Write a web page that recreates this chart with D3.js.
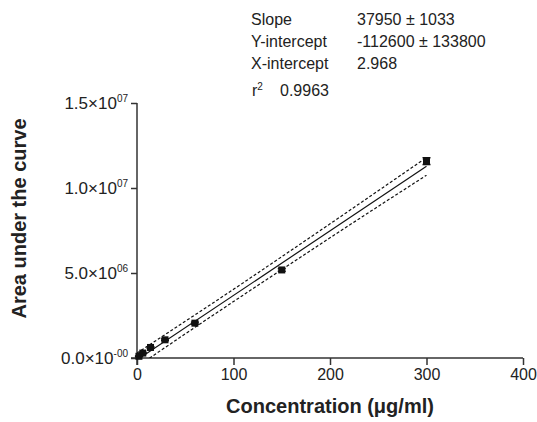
<!DOCTYPE html>
<html>
<head>
<meta charset="utf-8">
<script src="https://cdn.jsdelivr.net/npm/d3@7"></script>
<style>
  body { margin: 0; background: #fff; }
  text { font-family: "Liberation Sans", Arial, sans-serif; fill: #222; }
</style>
</head>
<body>
<div id="chart"></div>
<script>
// Data
const concentration = [2, 6, 14, 29, 60, 150, 300];
const auc = [0.10e6, 0.29e6, 0.62e6, 1.07e6, 2.05e6, 5.18e6, 11.58e6];
const aucErr = [0.02e6, 0.03e6, 0.04e6, 0.05e6, 0.06e6, 0.08e6, 0.2e6];

// Fit parameters (from the text box)
const slope = 37950;
const yIntercept = -112600;

// Confidence band, read at a few x positions
const bandX = [0, 50, 100, 150, 200, 250, 300];
const bandUpper = [0.29e6, 2.16e6, 4.04e6, 5.96e6, 7.89e6, 9.84e6, 11.79e6];
const bandLower = [-0.51e6, 1.42e6, 3.32e6, 5.20e6, 7.07e6, 8.92e6, 10.75e6];

const xTicks = [0, 100, 200, 300, 400];
const yTicks = [0, 5e6, 1e7, 1.5e7];
const yTickMant = ["0.0", "5.0", "1.0", "1.5"];
const yTickExp = ["-00", "06", "07", "07"];

const statLabels = ["Slope", "Y-intercept", "X-intercept"];
const statValues = ["37950 \u00b1 1033", "-112600 \u00b1 133800", "2.968"];
const r2Value = "0.9963";

const W = 537, H = 422;
const margin = {top: 103, right: 14, bottom: 64, left: 137};
const width = W - margin.left - margin.right;
const height = H - margin.top - margin.bottom;

const svg = d3.select("#chart").append("svg")
    .attr("width", W)
    .attr("height", H);

const g = svg.append("g")
    .attr("transform", `translate(${margin.left},${margin.top})`);

const x = d3.scaleLinear().domain([0, 400]).range([0, width]);
const y = d3.scaleLinear().domain([0, 1.5e7]).range([height, 0]);

// clip for fit lines
svg.append("defs").append("clipPath").attr("id", "plotclip")
    .append("rect")
    .attr("x", 0).attr("y", 0)
    .attr("width", width).attr("height", height);

// x axis
const xAxis = g.append("g")
    .attr("transform", `translate(0,${height})`)
    .call(d3.axisBottom(x).tickValues(xTicks).tickSize(7).tickSizeOuter(0).tickPadding(4));
xAxis.select(".domain").attr("stroke", "#333").attr("stroke-width", 1.5).attr("d", `M-6,0H${width}`);
xAxis.selectAll(".tick line").attr("stroke", "#333").attr("stroke-width", 1.5);
xAxis.selectAll(".tick text").style("font-size", "16px").attr("fill", "#222");

// y axis
const yAxis = g.append("g")
    .call(d3.axisLeft(y).tickValues(yTicks).tickSize(6).tickSizeOuter(0).tickFormat(""));
yAxis.select(".domain").attr("stroke", "#333").attr("stroke-width", 1.5).attr("d", `M0,${height + 7}V0`);
yAxis.selectAll(".tick line").attr("stroke", "#333").attr("stroke-width", 1.5);

yTicks.forEach((v, i) => {
  const t = g.append("text")
      .attr("x", -9)
      .attr("y", y(v) + 6)
      .attr("text-anchor", "end")
      .style("font-size", "17px");
  t.append("tspan").text(yTickMant[i] + "\u00d710");
  t.append("tspan").attr("dy", -7).style("font-size", "10px").text(yTickExp[i]);
});

// axis titles
svg.append("text")
    .attr("x", margin.left + width / 2)
    .attr("y", 413)
    .attr("text-anchor", "middle")
    .style("font-size", "20px")
    .style("font-weight", "bold")
    .text("Concentration (\u03bcg/ml)");

svg.append("text")
    .attr("transform", `translate(26,${margin.top + height / 2 - 12}) rotate(-90)`)
    .attr("text-anchor", "middle")
    .style("font-size", "20px")
    .style("font-weight", "bold")
    .text("Area under the curve");

// fit line and bands
const plot = g.append("g").attr("clip-path", "url(#plotclip)");

plot.append("line")
    .attr("x1", x(0)).attr("y1", y(yIntercept))
    .attr("x2", x(300)).attr("y2", y(slope * 300 + yIntercept))
    .attr("stroke", "#111").attr("stroke-width", 1.2);

const bandLine = d3.line()
    .x(d => x(d[0]))
    .y(d => y(d[1]))
    .curve(d3.curveMonotoneX);

[bandUpper, bandLower].forEach(band => {
  plot.append("path")
      .datum(bandX.map((v, i) => [v, band[i]]))
      .attr("fill", "none")
      .attr("stroke", "#111")
      .attr("stroke-width", 1.2)
      .attr("stroke-dasharray", "3,2")
      .attr("d", bandLine);
});

// error bars
concentration.forEach((c, i) => {
  const cx = x(c);
  g.append("line")
      .attr("x1", cx).attr("x2", cx)
      .attr("y1", y(auc[i] - aucErr[i])).attr("y2", y(auc[i] + aucErr[i]))
      .attr("stroke", "#111").attr("stroke-width", 1.5);
  [auc[i] - aucErr[i], auc[i] + aucErr[i]].forEach(v => {
    g.append("line")
        .attr("x1", cx - 4).attr("x2", cx + 4)
        .attr("y1", y(v)).attr("y2", y(v))
        .attr("stroke", "#111").attr("stroke-width", 1.5);
  });
});

// points
g.selectAll(".pt")
    .data(concentration)
    .enter()
    .append("rect")
    .attr("x", (d) => x(d) - 3.5)
    .attr("y", (d, i) => y(auc[i]) - 3.5)
    .attr("width", 7)
    .attr("height", 7)
    .attr("fill", "#111");

// stats box
statLabels.forEach((lab, i) => {
  svg.append("text").attr("x", 251).attr("y", 25 + i * 22)
      .style("font-size", "16px").text(lab);
  svg.append("text").attr("x", 357).attr("y", 25 + i * 22)
      .style("font-size", "16px").text(statValues[i]);
});
const r2 = svg.append("text").attr("x", 252).attr("y", 95.5).style("font-size", "16px");
r2.append("tspan").text("r");
r2.append("tspan").attr("dy", -6).style("font-size", "10px").text("2");
svg.append("text").attr("x", 280).attr("y", 95.5).style("font-size", "16px").text(r2Value);
</script>
</body>
</html>
